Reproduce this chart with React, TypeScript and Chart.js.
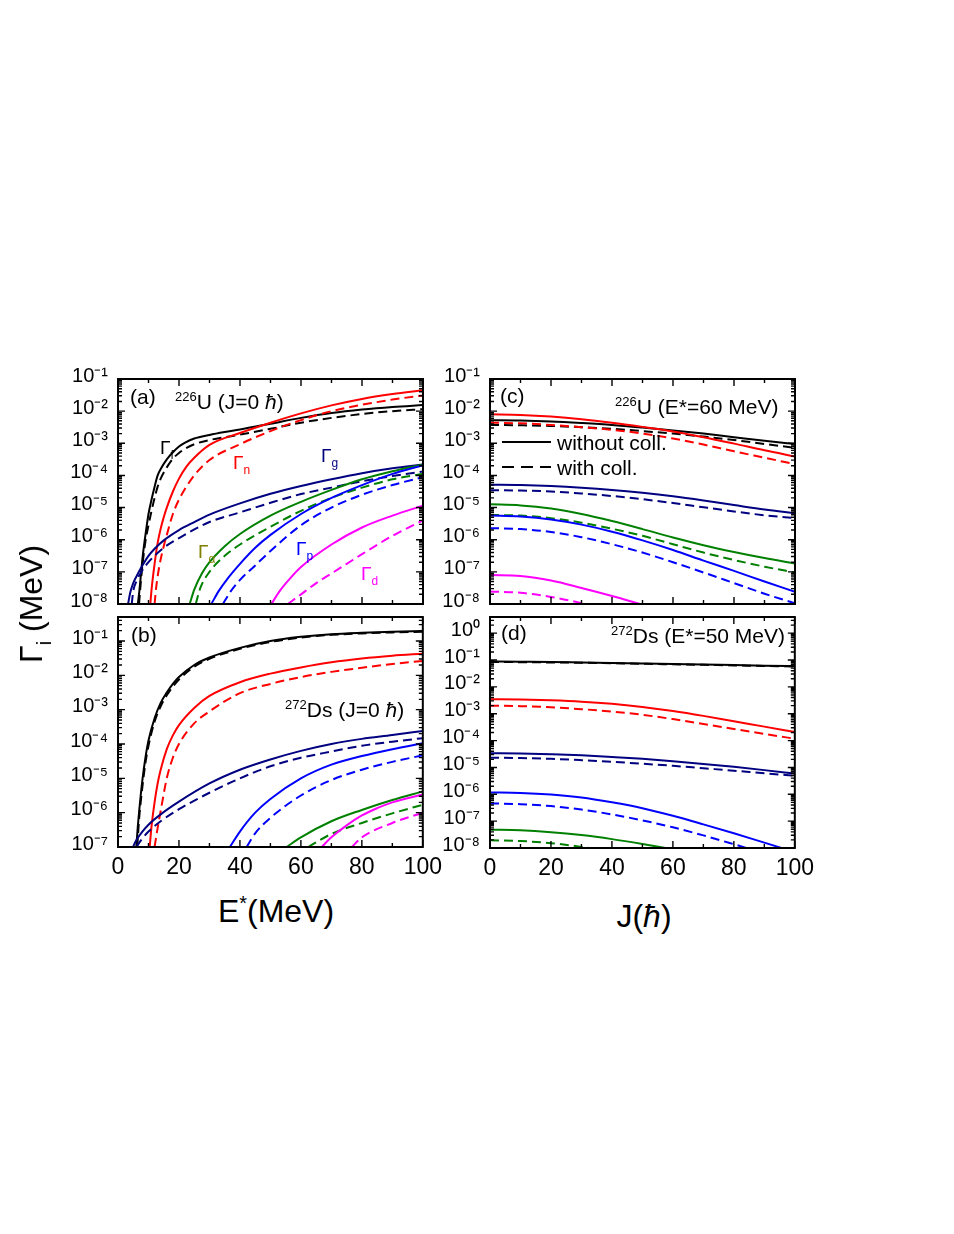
import React, { useEffect, useRef } from "react";
import { Chart, registerables } from "chart.js";

Chart.register(...registerables);

const FONT = "'Liberation Sans', Arial, Helvetica, sans-serif";

// ---------- colours ----------
const C_F = "#000000";
const C_N = "#ff0000";
const C_G = "#000080";
const C_A = "#008000";
const C_P = "#0000ff";
const C_D = "#ff00ff";
const C_A_LABEL = "#808000";

// ---------- tick values ----------
const X_TICKS = [0, 20, 40, 60, 80, 100];
const Y_TICKS_A = [1e-8, 1e-7, 1e-6, 1e-5, 1e-4, 1e-3, 1e-2, 1e-1];
const Y_TICKS_B = [1e-7, 1e-6, 1e-5, 1e-4, 1e-3, 1e-2, 1e-1];
const Y_TICKS_C = [1e-8, 1e-7, 1e-6, 1e-5, 1e-4, 1e-3, 1e-2, 1e-1];
const Y_TICKS_D = [1e-8, 1e-7, 1e-6, 1e-5, 1e-4, 1e-3, 1e-2, 1e-1, 1];

// ---------- panel (a): 226U, J = 0, widths vs E* ----------
const A_F_E = [6.5, 7, 7.5, 8, 8.5, 9, 10, 11, 12, 13, 14, 16, 18, 20, 22, 25, 30, 35, 40, 50, 60, 70, 80, 90, 100];
const A_F = [1e-8, 2.51e-8, 7.94e-8, 2.51e-7, 6.31e-7, 1.41e-6, 6.31e-6, 1.78e-5, 4.47e-5, 1e-4, 1.58e-4, 3.16e-4, 5.25e-4, 7.94e-4, 1.05e-3, 1.41e-3, 1.82e-3, 2.24e-3, 2.69e-3, 4.07e-3, 6.17e-3, 8.71e-3, 1.12e-2, 1.35e-2, 1.55e-2];
const A_F_COLL_E = [6.9, 7.5, 8, 8.5, 9, 10, 11, 12, 13, 14, 16, 18, 20, 22, 25, 30, 35, 40, 50, 60, 70, 80, 90, 100];
const A_F_COLL = [1e-8, 5.01e-8, 1.58e-7, 3.98e-7, 8.91e-7, 2.82e-6, 7.94e-6, 2.0e-5, 4.47e-5, 7.94e-5, 1.78e-4, 3.31e-4, 5.01e-4, 6.76e-4, 9.33e-4, 1.26e-3, 1.55e-3, 1.86e-3, 2.82e-3, 4.37e-3, 6.17e-3, 8.13e-3, 1.0e-2, 1.15e-2];
const A_N_E = [10.6, 11, 12, 13, 14, 15, 16, 18, 20, 22.5, 25, 30, 40, 50, 60, 70, 80, 90, 100];
const A_N = [1e-8, 2.82e-8, 1.78e-7, 7.94e-7, 2.24e-6, 5.01e-6, 1e-5, 3.16e-5, 7.94e-5, 1.91e-4, 3.55e-4, 8.91e-4, 2.09e-3, 4.37e-3, 8.51e-3, 1.51e-2, 2.4e-2, 3.39e-2, 4.47e-2];
const A_N_COLL_E = [12, 12.5, 13.5, 15, 16, 18, 20, 25, 30, 40, 50, 60, 70, 80, 90, 100];
const A_N_COLL = [1e-8, 3.16e-8, 1.41e-7, 6.31e-7, 1.41e-6, 6.31e-6, 1.78e-5, 1e-4, 3.02e-4, 9.33e-4, 2.4e-3, 5.25e-3, 1e-2, 1.58e-2, 2.29e-2, 3.09e-2];
const A_G_E = [3.3, 4, 5, 6, 8, 10, 12, 15, 20, 25, 30, 40, 50, 60, 70, 80, 90, 100];
const A_G = [1e-8, 2.24e-8, 4.47e-8, 7.08e-8, 1.58e-7, 3.16e-7, 5.25e-7, 9.55e-7, 2.0e-6, 3.55e-6, 6.03e-6, 1.35e-5, 2.69e-5, 4.68e-5, 7.59e-5, 1.17e-4, 1.66e-4, 2.19e-4];
const A_G_COLL_E = [4.5, 5, 6, 8, 10, 15, 20, 30, 40, 50, 60, 70, 80, 90, 100];
const A_G_COLL = [1e-8, 2.51e-8, 5.01e-8, 1.12e-7, 2.0e-7, 5.62e-7, 1.12e-6, 3.55e-6, 7.08e-6, 1.41e-5, 2.63e-5, 4.17e-5, 6.61e-5, 9.55e-5, 1.32e-4];
const A_A_E = [23.5, 25, 27.5, 30, 35, 40, 50, 60, 70, 80, 90, 100];
const A_A = [1e-8, 2.82e-8, 8.91e-8, 2.0e-7, 6.31e-7, 1.51e-6, 5.62e-6, 1.51e-5, 3.55e-5, 7.59e-5, 1.35e-4, 2.19e-4];
const A_A_COLL_E = [25.5, 27, 30, 35, 40, 50, 60, 70, 80, 90, 100];
const A_A_COLL = [1e-8, 3.16e-8, 1e-7, 3.16e-7, 7.08e-7, 2.51e-6, 7.94e-6, 2.0e-5, 4.17e-5, 7.59e-5, 1.12e-4];
const A_P_E = [30.6, 33, 36, 40, 45, 50, 60, 70, 80, 90, 100];
const A_P = [1e-8, 2.51e-8, 6.31e-8, 1.78e-7, 5.62e-7, 1.41e-6, 6.31e-6, 2.0e-5, 5.01e-5, 1.12e-4, 2.09e-4];
const A_P_COLL_E = [34.4, 37, 40, 45, 50, 60, 70, 80, 90, 100];
const A_P_COLL = [1e-8, 2.51e-8, 5.62e-8, 1.58e-7, 4.47e-7, 2.82e-6, 1e-5, 2.51e-5, 5.01e-5, 8.91e-5];
const A_D_E = [50.3, 53, 56, 60, 70, 80, 90, 100];
const A_D = [1e-8, 2.51e-8, 5.62e-8, 1.41e-7, 7.08e-7, 2.4e-6, 5.62e-6, 1.15e-5];
const A_D_COLL_E = [55.7, 60, 65, 70, 75, 80, 90, 100];
const A_D_COLL = [1e-8, 2.0e-8, 4.47e-8, 8.91e-8, 1.78e-7, 3.55e-7, 1.32e-6, 3.98e-6];

// ---------- panel (b): 272Ds, J = 0, widths vs E* ----------
const B_F_E = [6.0, 6.5, 7, 7.5, 8, 9, 10, 12, 14, 16, 18, 20, 25, 30, 40, 50, 60, 70, 80, 90, 100];
const B_F = [1e-7, 3.98e-7, 1.26e-6, 3.55e-6, 8.91e-6, 3.98e-5, 1.26e-4, 5.62e-4, 1.58e-3, 3.16e-3, 5.62e-3, 8.91e-3, 2.0e-2, 3.31e-2, 6.31e-2, 0.1, 0.132, 0.158, 0.174, 0.186, 0.195];
const B_F_COLL_E = [6.3, 7, 7.5, 8, 9, 10, 12, 14, 16, 18, 20, 25, 30, 40, 50, 60, 70, 80, 90, 100];
const B_F_COLL = [1e-7, 7.94e-7, 2.24e-6, 5.62e-6, 2.82e-5, 8.91e-5, 4.47e-4, 1.26e-3, 2.63e-3, 4.68e-3, 7.59e-3, 1.78e-2, 3.02e-2, 5.89e-2, 9.33e-2, 0.126, 0.151, 0.166, 0.178, 0.186];
const B_N_E = [10.4, 11, 12, 13, 14, 16, 18, 20, 25, 30, 40, 50, 60, 70, 80, 90, 100];
const B_N = [1e-7, 3.98e-7, 2.0e-6, 7.08e-6, 1.78e-5, 7.08e-5, 1.78e-4, 3.55e-4, 1.12e-3, 2.51e-3, 6.31e-3, 1.12e-2, 1.7e-2, 2.4e-2, 3.09e-2, 3.72e-2, 4.27e-2];
const B_N_COLL_E = [12, 13, 14, 16, 18, 20, 25, 30, 40, 50, 60, 70, 80, 90, 100];
const B_N_COLL = [1e-7, 3.55e-7, 1.12e-6, 1e-5, 3.98e-5, 1e-4, 3.98e-4, 8.91e-4, 3.02e-3, 5.62e-3, 8.91e-3, 1.26e-2, 1.66e-2, 2.14e-2, 2.63e-2];
const B_G_E = [4.9, 6, 8, 10, 14, 20, 30, 40, 50, 60, 70, 80, 90, 100];
const B_G = [1e-7, 1.58e-7, 2.82e-7, 4.47e-7, 8.91e-7, 2.09e-6, 7.08e-6, 1.78e-5, 3.55e-5, 6.31e-5, 1e-4, 1.41e-4, 1.82e-4, 2.4e-4];
const B_G_COLL_E = [6, 8, 10, 14, 20, 30, 40, 50, 60, 70, 80, 90, 100];
const B_G_COLL = [1e-7, 1.78e-7, 2.82e-7, 5.62e-7, 1.26e-6, 3.8e-6, 1e-5, 2.24e-5, 3.98e-5, 6.03e-5, 8.91e-5, 1.17e-4, 1.48e-4];
const B_P_E = [36.7, 40, 45, 50, 60, 70, 80, 90, 100];
const B_P = [1e-7, 2.82e-7, 1e-6, 2.51e-6, 1e-5, 2.51e-5, 4.47e-5, 7.08e-5, 1.05e-4];
const B_P_COLL_E = [42.2, 45, 50, 60, 70, 80, 90, 100];
const B_P_COLL = [1e-7, 2.51e-7, 7.08e-7, 3.16e-6, 8.91e-6, 1.78e-5, 3.02e-5, 4.68e-5];
const B_A_E = [55.3, 60, 70, 80, 90, 100];
const B_A = [1e-7, 1.91e-7, 5.62e-7, 1.2e-6, 2.34e-6, 4.17e-6];
const B_A_COLL_E = [62.4, 70, 80, 90, 100];
const B_A_COLL = [1e-7, 2.4e-7, 5.01e-7, 9.55e-7, 1.7e-6];
const B_D_E = [66.8, 70, 75, 80, 85, 90, 100];
const B_D = [1e-7, 1.91e-7, 4.27e-7, 8.32e-7, 1.35e-6, 2.0e-6, 3.39e-6];
const B_D_COLL_E = [76.7, 80, 90, 100];
const B_D_COLL = [1e-7, 1.91e-7, 5.01e-7, 1e-6];

// ---------- panel (c): 226U, E* = 60 MeV, widths vs J ----------
const C_J = [0, 10, 20, 30, 40, 50, 60, 70, 80, 90, 100];
const C_FIS = [5.25e-3, 5.13e-3, 4.79e-3, 4.27e-3, 3.72e-3, 3.09e-3, 2.51e-3, 2.0e-3, 1.55e-3, 1.2e-3, 9.55e-4];
const C_FIS_COLL = [3.72e-3, 3.63e-3, 3.47e-3, 3.16e-3, 2.82e-3, 2.4e-3, 2.0e-3, 1.62e-3, 1.26e-3, 9.55e-4, 7.24e-4];
const C_NEU = [7.94e-3, 7.59e-3, 6.76e-3, 5.62e-3, 4.37e-3, 3.24e-3, 2.34e-3, 1.55e-3, 9.77e-4, 6.03e-4, 3.89e-4];
const C_NEU_COLL = [4.37e-3, 4.17e-3, 3.72e-3, 3.16e-3, 2.63e-3, 2.0e-3, 1.41e-3, 9.12e-4, 5.62e-4, 3.55e-4, 2.24e-4];
const C_GAM = [5.13e-5, 5.01e-5, 4.68e-5, 4.17e-5, 3.55e-5, 2.88e-5, 2.24e-5, 1.66e-5, 1.2e-5, 8.71e-6, 6.61e-6];
const C_GAM_COLL = [3.47e-5, 3.39e-5, 3.16e-5, 2.75e-5, 2.29e-5, 1.82e-5, 1.38e-5, 1.02e-5, 7.59e-6, 5.75e-6, 4.68e-6];
const C_ALP = [1.26e-5, 1.17e-5, 9.33e-6, 6.31e-6, 3.8e-6, 2.14e-6, 1.17e-6, 6.76e-7, 4.17e-7, 2.69e-7, 1.82e-7];
const C_ALP_COLL = [5.89e-6, 5.62e-6, 4.68e-6, 3.39e-6, 2.19e-6, 1.32e-6, 7.24e-7, 3.98e-7, 2.34e-7, 1.45e-7, 9.55e-8];
const C_PRO = [5.62e-6, 5.25e-6, 4.27e-6, 2.95e-6, 1.78e-6, 9.55e-7, 4.79e-7, 2.24e-7, 1.07e-7, 5.01e-8, 2.4e-8];
const C_PRO_COLL = [2.29e-6, 2.14e-6, 1.74e-6, 1.2e-6, 7.24e-7, 3.98e-7, 2.0e-7, 9.55e-8, 4.47e-8, 2.09e-8, 1.05e-8];
const C_DEU_J = [0, 10, 20, 30, 40, 50];
const C_DEU = [7.94e-8, 7.41e-8, 5.37e-8, 3.16e-8, 1.78e-8, 9.55e-9];
const C_DEU_COLL_J = [0, 10, 20, 30, 35];
const C_DEU_COLL = [2.45e-8, 2.24e-8, 1.66e-8, 1.05e-8, 7.59e-9];

// ---------- panel (d): 272Ds, E* = 50 MeV, widths vs J ----------
const D_J = [0, 10, 20, 30, 40, 50, 60, 70, 80, 90, 100];
const D_FIS = [8.91e-2, 8.71e-2, 8.51e-2, 8.13e-2, 7.76e-2, 7.41e-2, 7.08e-2, 6.76e-2, 6.46e-2, 6.17e-2, 5.89e-2];
const D_FIS_COLL = [8.51e-2, 8.32e-2, 8.13e-2, 7.94e-2, 7.59e-2, 7.24e-2, 6.92e-2, 6.61e-2, 6.31e-2, 6.03e-2, 5.75e-2];
const D_NEU = [3.47e-3, 3.39e-3, 3.16e-3, 2.82e-3, 2.34e-3, 1.78e-3, 1.26e-3, 8.32e-4, 5.25e-4, 3.31e-4, 2.09e-4];
const D_NEU_COLL = [2.0e-3, 1.91e-3, 1.74e-3, 1.48e-3, 1.2e-3, 9.12e-4, 6.31e-4, 4.17e-4, 2.69e-4, 1.78e-4, 1.17e-4];
const D_GAM = [3.39e-5, 3.31e-5, 3.09e-5, 2.82e-5, 2.45e-5, 2.09e-5, 1.7e-5, 1.35e-5, 1.05e-5, 7.94e-6, 5.89e-6];
const D_GAM_COLL = [2.29e-5, 2.24e-5, 2.09e-5, 1.86e-5, 1.62e-5, 1.38e-5, 1.15e-5, 9.33e-6, 7.59e-6, 6.03e-6, 4.9e-6];
const D_PRO = [1.17e-6, 1.12e-6, 9.77e-7, 7.59e-7, 5.01e-7, 3.02e-7, 1.58e-7, 7.59e-8, 3.55e-8, 1.58e-8, 7.08e-9];
const D_PRO_COLL_J = [0, 10, 20, 30, 40, 50, 60, 70, 80, 90];
const D_PRO_COLL = [4.57e-7, 4.27e-7, 3.63e-7, 2.69e-7, 1.78e-7, 1.07e-7, 5.89e-8, 2.95e-8, 1.38e-8, 6.31e-9];
const D_ALP_J = [0, 10, 20, 30, 40, 50, 60];
const D_ALP = [4.79e-8, 4.57e-8, 3.89e-8, 3.02e-8, 2.14e-8, 1.41e-8, 8.91e-9];
const D_ALP_COLL_J = [0, 10, 20, 30, 40];
const D_ALP_COLL = [1.95e-8, 1.82e-8, 1.51e-8, 1.1e-8, 7.08e-9];

// ---------- helpers ----------
type Series = { x: number[]; y: number[]; color: string; dashed: boolean };
const s = (x: number[], y: number[], color: string, dashed: boolean): Series => ({ x, y, color, dashed });

type PanelSpec = {
  id: string;
  left: number; top: number; w: number; h: number;
  yMin: number; yMax: number; yTicks: number[];
  showX: boolean;
  series: Series[];
};

const YW = 80;  // y-axis box width
const PT = 16;  // top padding
const PR = 26;  // right padding
const PB = 16;  // bottom padding (top panels)
const XH = 44;  // x-axis box height (bottom panels)

const SUP: Record<string, string> = {
  "-": "\u207B", "0": "\u2070", "1": "\u00B9", "2": "\u00B2", "3": "\u00B3",
  "4": "\u2074", "5": "\u2075", "6": "\u2076", "7": "\u2077", "8": "\u2078", "9": "\u2079",
};
const decadeLabel = (v: number) => {
  const e = Math.round(Math.log10(v));
  return "10" + String(e).split("").map((c) => SUP[c] || c).join("");
};

const framePlugin = {
  id: "frameTicks",
  afterDatasetsDraw(chart: any) {
    const { ctx, chartArea, scales } = chart;
    const { left, right, top, bottom } = chartArea;
    const xs = scales.x;
    const ys = scales.y;
    ctx.save();
    ctx.strokeStyle = "#000";
    ctx.lineWidth = 1.4;
    ctx.beginPath();
    for (let v = xs.min; v <= xs.max + 1e-9; v += 10) {
      const px = xs.getPixelForValue(v);
      const len = Math.round(v) % 20 === 0 ? 7 : 4;
      ctx.moveTo(px, bottom);
      ctx.lineTo(px, bottom - len);
      ctx.moveTo(px, top);
      ctx.lineTo(px, top + len);
    }
    const e0 = Math.floor(Math.log10(ys.min));
    const e1 = Math.ceil(Math.log10(ys.max));
    for (let e = e0; e <= e1; e++) {
      for (let m = 1; m <= 9; m++) {
        const v = m * Math.pow(10, e);
        if (v < ys.min * 0.999 || v > ys.max * 1.001) continue;
        const py = ys.getPixelForValue(v);
        const len = m === 1 ? 7 : 4;
        ctx.moveTo(left, py);
        ctx.lineTo(left + len, py);
        ctx.moveTo(right, py);
        ctx.lineTo(right - len, py);
      }
    }
    ctx.stroke();
    ctx.lineWidth = 2;
    ctx.strokeRect(left, top, right - left, bottom - top);
    ctx.restore();
  },
};

function buildConfig(p: PanelSpec): any {
  return {
    type: "line",
    data: {
      datasets: p.series.map((sr) => ({
        data: sr.x.map((xv, i) => ({ x: xv, y: sr.y[i] })),
        borderColor: sr.color,
        backgroundColor: sr.color,
        borderWidth: 2,
        borderDash: sr.dashed ? [9, 5] : [],
        pointRadius: 0,
        fill: false,
        cubicInterpolationMode: "monotone",
      })),
    },
    options: {
      animation: false,
      responsive: true,
      maintainAspectRatio: false,
      events: [],
      layout: { padding: { top: PT, right: PR, left: 0, bottom: p.showX ? 0 : PB } },
      plugins: { legend: { display: false }, tooltip: { enabled: false } },
      scales: {
        x: {
          type: "linear",
          min: 0,
          max: 100,
          grid: { display: false, drawTicks: false },
          border: { display: false },
          afterBuildTicks: (sc: any) => {
            sc.ticks = X_TICKS.map((v) => ({ value: v }));
          },
          afterFit: (sc: any) => {
            sc.height = p.showX ? XH : 0;
          },
          ticks: {
            display: p.showX,
            autoSkip: false,
            maxRotation: 0,
            padding: 7,
            color: "#000",
            font: { family: FONT, size: 23 },
          },
        },
        y: {
          type: "logarithmic",
          min: p.yMin,
          max: p.yMax,
          grid: { display: false, drawTicks: false },
          border: { display: false },
          afterBuildTicks: (sc: any) => {
            sc.ticks = p.yTicks.map((v) => ({ value: v }));
          },
          afterFit: (sc: any) => {
            sc.width = YW;
          },
          ticks: {
            autoSkip: false,
            padding: 10,
            labelOffset: -3,
            color: "#000",
            font: { family: FONT, size: 20 },
            callback: (v: any) => decadeLabel(Number(v)),
          },
        },
      },
    },
    plugins: [framePlugin],
  };
}

const PANELS: PanelSpec[] = [
  {
    id: "a", left: 118, top: 373, w: 305, h: 237,
    yMin: 1e-8, yMax: 1e-1, yTicks: Y_TICKS_A, showX: false,
    series: [
      s(A_D_E, A_D, C_D, false), s(A_D_COLL_E, A_D_COLL, C_D, true),
      s(A_P_E, A_P, C_P, false), s(A_P_COLL_E, A_P_COLL, C_P, true),
      s(A_A_E, A_A, C_A, false), s(A_A_COLL_E, A_A_COLL, C_A, true),
      s(A_G_E, A_G, C_G, false), s(A_G_COLL_E, A_G_COLL, C_G, true),
      s(A_N_E, A_N, C_N, false), s(A_N_COLL_E, A_N_COLL, C_N, true),
      s(A_F_E, A_F, C_F, false), s(A_F_COLL_E, A_F_COLL, C_F, true),
    ],
  },
  {
    id: "b", left: 118, top: 611, w: 305, h: 236,
    yMin: 1e-7, yMax: 0.5, yTicks: Y_TICKS_B, showX: true,
    series: [
      s(B_D_E, B_D, C_D, false), s(B_D_COLL_E, B_D_COLL, C_D, true),
      s(B_A_E, B_A, C_A, false), s(B_A_COLL_E, B_A_COLL, C_A, true),
      s(B_P_E, B_P, C_P, false), s(B_P_COLL_E, B_P_COLL, C_P, true),
      s(B_G_E, B_G, C_G, false), s(B_G_COLL_E, B_G_COLL, C_G, true),
      s(B_N_E, B_N, C_N, false), s(B_N_COLL_E, B_N_COLL, C_N, true),
      s(B_F_E, B_F, C_F, false), s(B_F_COLL_E, B_F_COLL, C_F, true),
    ],
  },
  {
    id: "c", left: 490, top: 373, w: 305, h: 237,
    yMin: 1e-8, yMax: 1e-1, yTicks: Y_TICKS_C, showX: false,
    series: [
      s(C_DEU_J, C_DEU, C_D, false), s(C_DEU_COLL_J, C_DEU_COLL, C_D, true),
      s(C_J, C_PRO, C_P, false), s(C_J, C_PRO_COLL, C_P, true),
      s(C_J, C_ALP, C_A, false), s(C_J, C_ALP_COLL, C_A, true),
      s(C_J, C_GAM, C_G, false), s(C_J, C_GAM_COLL, C_G, true),
      s(C_J, C_NEU, C_N, false), s(C_J, C_NEU_COLL, C_N, true),
      s(C_J, C_FIS, C_F, false), s(C_J, C_FIS_COLL, C_F, true),
    ],
  },
  {
    id: "d", left: 490, top: 611, w: 305, h: 237,
    yMin: 1e-8, yMax: 4, yTicks: Y_TICKS_D, showX: true,
    series: [
      s(D_ALP_J, D_ALP, C_A, false), s(D_ALP_COLL_J, D_ALP_COLL, C_A, true),
      s(D_J, D_PRO, C_P, false), s(D_PRO_COLL_J, D_PRO_COLL, C_P, true),
      s(D_J, D_GAM, C_G, false), s(D_J, D_GAM_COLL, C_G, true),
      s(D_J, D_NEU, C_N, false), s(D_J, D_NEU_COLL, C_N, true),
      s(D_J, D_FIS, C_F, false), s(D_J, D_FIS_COLL, C_F, true),
    ],
  },
];

function Panel({ spec }: { spec: PanelSpec }) {
  const ref = useRef<HTMLCanvasElement | null>(null);
  useEffect(() => {
    if (!ref.current) return;
    const chart = new Chart(ref.current, buildConfig(spec));
    return () => chart.destroy();
  }, [spec]);
  const W = YW + spec.w + PR;
  const H = PT + spec.h + (spec.showX ? XH : PB);
  return (
    <div style={{ position: "absolute", left: spec.left - YW, top: spec.top - PT, width: W, height: H }}>
      <canvas ref={ref} />
    </div>
  );
}

const Sup = ({ children }: { children: React.ReactNode }) => (
  <span style={{ fontSize: "0.62em", position: "relative", top: "-0.6em" }}>{children}</span>
);
const Sub = ({ children }: { children: React.ReactNode }) => (
  <span style={{ fontSize: "0.63em", position: "relative", top: "0.45em" }}>{children}</span>
);

type TProps = { left: number; top: number; size: number; color?: string; children: React.ReactNode; style?: React.CSSProperties };
const T = ({ left, top, size, color = "#000", children, style }: TProps) => (
  <div
    style={{
      position: "absolute", left, top, fontSize: size, lineHeight: 1, color,
      fontFamily: FONT, whiteSpace: "nowrap", ...style,
    }}
  >
    {children}
  </div>
);

export default function App() {
  return (
    <div style={{ position: "absolute", left: 0, top: 0, width: 954, height: 1234, background: "#fff", overflow: "hidden" }}>
      {PANELS.map((p) => (
        <Panel key={p.id} spec={p} />
      ))}

      {/* panel (a) texts */}
      <T left={130} top={386} size={21}>(a)</T>
      <T left={175} top={391} size={21}><Sup>226</Sup>U (J=0 <i>ħ</i>)</T>
      <T left={160} top={438} size={19} color={C_F}>Γ<Sub>f</Sub></T>
      <T left={233} top={453} size={19} color={C_N}>Γ<Sub>n</Sub></T>
      <T left={321} top={446} size={19} color={C_G}>Γ<Sub>g</Sub></T>
      <T left={198} top={542} size={19} color={C_A_LABEL}>Γ<Sub>α</Sub></T>
      <T left={296} top={539} size={19} color={C_P}>Γ<Sub>p</Sub></T>
      <T left={361} top={564} size={19} color={C_D}>Γ<Sub>d</Sub></T>

      {/* panel (b) texts */}
      <T left={131} top={624} size={21}>(b)</T>
      <T left={285} top={699} size={21}><Sup>272</Sup>Ds (J=0 <i>ħ</i>)</T>

      {/* panel (c) texts */}
      <T left={500} top={385} size={21}>(c)</T>
      <T left={615} top={396} size={21}><Sup>226</Sup>U (E*=60 MeV)</T>
      <svg style={{ position: "absolute", left: 500, top: 432, width: 54, height: 40 }}>
        <line x1={2} y1={10} x2={51} y2={10} stroke="#000" strokeWidth={2} />
        <line x1={2} y1={35} x2={51} y2={35} stroke="#000" strokeWidth={2} strokeDasharray="12 7" />
      </svg>
      <T left={557} top={432} size={21}>without coll.</T>
      <T left={557} top={457} size={21}>with coll.</T>

      {/* panel (d) texts */}
      <T left={501} top={622} size={21}>(d)</T>
      <T left={611} top={625} size={21}><Sup>272</Sup>Ds (E*=50 MeV)</T>

      {/* axis titles */}
      <T
        left={31}
        top={604}
        size={32}
        style={{ transform: "translate(-50%, -50%) rotate(-90deg)", transformOrigin: "center" }}
      >
        Γ<Sub>i</Sub> (MeV)
      </T>
      <T left={276} top={895} size={32} style={{ transform: "translateX(-50%)" }}>
        E<Sup>*</Sup>(MeV)
      </T>
      <T left={644} top={900} size={32} style={{ transform: "translateX(-50%)" }}>
        J(<i>ħ</i>)
      </T>
    </div>
  );
}
